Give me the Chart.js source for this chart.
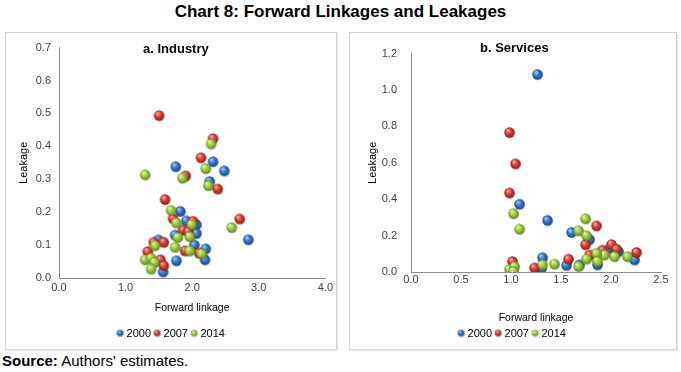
<!DOCTYPE html>
<html>
<head>
<meta charset="utf-8">
<script src="https://cdn.jsdelivr.net/npm/chart.js@4.4.0/dist/chart.umd.min.js"></script>
<style>
  body { margin: 0; background: #fff; font-family: "Liberation Sans", Arial, sans-serif; }
  #wrap { position: relative; width: 681px; height: 372px; overflow: hidden; }
  .title { position: absolute; left: 0; top: 0; width: 681px; line-height: 24px; text-align: center; font-weight: bold; font-size: 17px; color: #000; }
  .panel { position: absolute; top: 32px; height: 316px; border: 1px solid #d2d2d2; box-shadow: 1px 1px 1px #e4e4e4; }
  .panel canvas { position: absolute; left: 0; top: 0; }
  .ptitle { position: absolute; font-weight: bold; font-size: 13px; color: #000; }
  .source { position: absolute; left: 2px; top: 352px; font-size: 15px; line-height: 17px; color: #000; }
</style>
</head>
<body>
<div id="wrap">
  <div class="title">Chart 8: Forward Linkages and Leakages</div>

  <div class="panel" style="left:5px;width:330px;">
    <canvas id="industry" width="330" height="316"></canvas>
  </div>
  <div class="ptitle" style="left:143px;top:41px;">a. Industry</div>

  <div class="panel" style="left:349px;width:326px;">
    <canvas id="services" width="326" height="316"></canvas>
  </div>
  <div class="ptitle" style="left:480px;top:40px;">b. Services</div>

  <div class="source"><b>Source:</b> Authors' estimates.</div>
</div>

<script>
// series labels
const years = ["2000", "2007", "2014"];

// a. Industry: [forward linkage, leakage]
const industry2000 = [[1.76,0.337],[2.32,0.352],[2.49,0.324],[2.27,0.292],[1.83,0.201],[1.92,0.172],
  [2.07,0.161],[2.07,0.134],[1.75,0.129],[2.85,0.115],[1.50,0.114],[2.04,0.099],[2.21,0.087],
  [2.20,0.054],[1.77,0.051],[1.57,0.017]];
const industry2007 = [[1.51,0.492],[2.32,0.422],[2.14,0.364],[1.91,0.309],[2.39,0.269],[1.60,0.237],
  [2.72,0.178],[1.72,0.179],[2.02,0.171],[1.87,0.144],[1.95,0.139],[1.43,0.107],[1.58,0.107],
  [1.90,0.081],[2.11,0.074],[1.34,0.079],[1.53,0.054],[1.58,0.036]];
const industry2014 = [[2.29,0.406],[2.21,0.331],[1.30,0.312],[1.86,0.302],[2.25,0.279],[1.69,0.204],
  [1.77,0.166],[2.00,0.161],[2.60,0.152],[1.79,0.122],[1.97,0.124],[1.75,0.092],[1.97,0.081],
  [2.15,0.072],[1.45,0.097],[1.30,0.054],[1.39,0.059],[1.44,0.046],[1.39,0.026]];

// b. Services
const services2000 = [[1.27,1.083],[1.09,0.370],[1.37,0.281],[1.61,0.215],[1.79,0.176],[1.99,0.126],
  [2.08,0.110],[2.24,0.064],[1.87,0.037],[1.69,0.037],[1.56,0.034],[1.32,0.076],[1.31,0.016],[1.00,0.000]];
const services2007 = [[0.99,0.764],[1.05,0.592],[0.99,0.432],[1.86,0.251],[1.75,0.148],[2.01,0.148],
  [2.06,0.123],[2.26,0.105],[1.92,0.117],[1.79,0.091],[1.58,0.068],[1.24,0.020],[1.02,0.055]];
const services2014 = [[1.03,0.318],[1.09,0.233],[1.75,0.290],[1.68,0.224],[1.76,0.197],[2.17,0.082],
  [2.04,0.082],[1.94,0.091],[1.86,0.100],[1.87,0.055],[1.76,0.069],[1.68,0.028],[1.44,0.041],
  [1.32,0.037],[0.99,0.011],[1.04,0.027],[1.03,0.000]];

// axis ticks
const industryXTicks = [0, 1, 2, 3, 4];
const industryYTicks = [0, 0.1, 0.2, 0.3, 0.4, 0.5, 0.6, 0.7];
const servicesXTicks = [0, 0.5, 1, 1.5, 2, 2.5];
const servicesYTicks = [0, 0.2, 0.4, 0.6, 0.8, 1.0, 1.2];

const FONT = "'Liberation Sans', Arial, sans-serif";

/* shaded ball markers */
function makeBall(r, light, mid, dark) {
  const s = Math.ceil(r * 2 + 3);
  const c = document.createElement("canvas");
  c.width = s; c.height = s;
  const g = c.getContext("2d");
  const cx = s / 2 - 0.5, cy = s / 2 - 0.5;
  g.fillStyle = "rgba(0,0,0,0.18)";
  g.beginPath(); g.arc(cx + 0.7, cy + 0.9, r, 0, Math.PI * 2); g.fill();
  const grad = g.createRadialGradient(cx - r * 0.35, cy - r * 0.45, r * 0.08, cx, cy, r * 1.05);
  grad.addColorStop(0, light);
  grad.addColorStop(0.5, mid);
  grad.addColorStop(1, dark);
  g.fillStyle = grad;
  g.beginPath(); g.arc(cx, cy, r, 0, Math.PI * 2); g.fill();
  return c;
}

const palette = [
  ["#a3c8f2", "#3474c8", "#1a4485"],
  ["#f5a7a2", "#d73c36", "#8c1a16"],
  ["#e0f4a6", "#9dc840", "#5a861b"]
];
const balls = palette.map(p => makeBall(5.2, p[0], p[1], p[2]));
const smallBalls = palette.map(p => makeBall(3.3, p[0], p[1], p[2]));

function toPts(arr) {
  return arr.map(d => ({ x: d[0], y: d[1] }));
}

function drawPanel(id, series, xTicks, yTicks, g) {
  new Chart(document.getElementById(id), {
    type: "scatter",
    data: {
      datasets: series.map((s, i) => ({
        label: years[i],
        data: toPts(s),
        pointStyle: balls[i],
        order: 3 - i
      }))
    },
    options: {
      responsive: false,
      animation: false,
      layout: { padding: { left: g.padL, right: g.padR, top: g.padT, bottom: 0 } },
      plugins: {
        tooltip: { enabled: false },
        legend: {
          position: "bottom",
          labels: {
            usePointStyle: true,
            boxWidth: 1,
            boxHeight: 7,
            padding: 6,
            color: "#000",
            font: { size: 11, family: FONT },
            sort: (a, b) => a.datasetIndex - b.datasetIndex,
            generateLabels: chart => {
              const items = Chart.defaults.plugins.legend.labels.generateLabels(chart);
              items.forEach(it => { it.pointStyle = smallBalls[it.datasetIndex]; });
              return items;
            }
          }
        }
      },
      scales: {
        x: {
          type: "linear",
          min: xTicks[0],
          max: xTicks[xTicks.length - 1],
          afterBuildTicks: s => { s.ticks = xTicks.map(v => ({ value: v })); },
          afterFit: s => { s.height = g.xH; },
          ticks: {
            callback: v => v.toFixed(1),
            color: "#404040",
            font: { size: 11, family: FONT },
            padding: g.xTickPad,
            maxRotation: 0
          },
          grid: { display: false, drawTicks: false },
          border: { display: true, color: "#8a8a8a", width: 1 },
          title: {
            display: true,
            text: "Forward linkage",
            color: "#000",
            font: { size: 10.5, family: FONT },
            padding: { top: 0, bottom: g.xTitlePad }
          }
        },
        y: {
          type: "linear",
          min: yTicks[0],
          max: yTicks[yTicks.length - 1],
          afterBuildTicks: s => { s.ticks = yTicks.map(v => ({ value: v })); },
          afterFit: s => { s.width = g.yW; },
          ticks: {
            callback: v => v.toFixed(1),
            color: "#404040",
            font: { size: 11, family: FONT },
            padding: g.yTickPad
          },
          grid: { display: false, drawTicks: false },
          border: { display: true, color: "#8a8a8a", width: 1 },
          title: {
            display: true,
            text: "Leakage",
            color: "#000",
            font: { size: 11, family: FONT },
            padding: { top: 0, bottom: 0 }
          }
        }
      }
    }
  });
}

drawPanel("industry", [industry2000, industry2007, industry2014], industryXTicks, industryYTicks,
  { padL: 11, padR: 8, padT: 12, yW: 42, xH: 44, xTickPad: 3, yTickPad: 8, xTitlePad: 7.7 });

drawPanel("services", [services2000, services2007, services2014], servicesXTicks, servicesYTicks,
  { padL: 16, padR: 15, padT: 14, yW: 45, xH: 50, xTickPad: 1, yTickPad: 14, xTitlePad: -2 });
</script>
</body>
</html>
